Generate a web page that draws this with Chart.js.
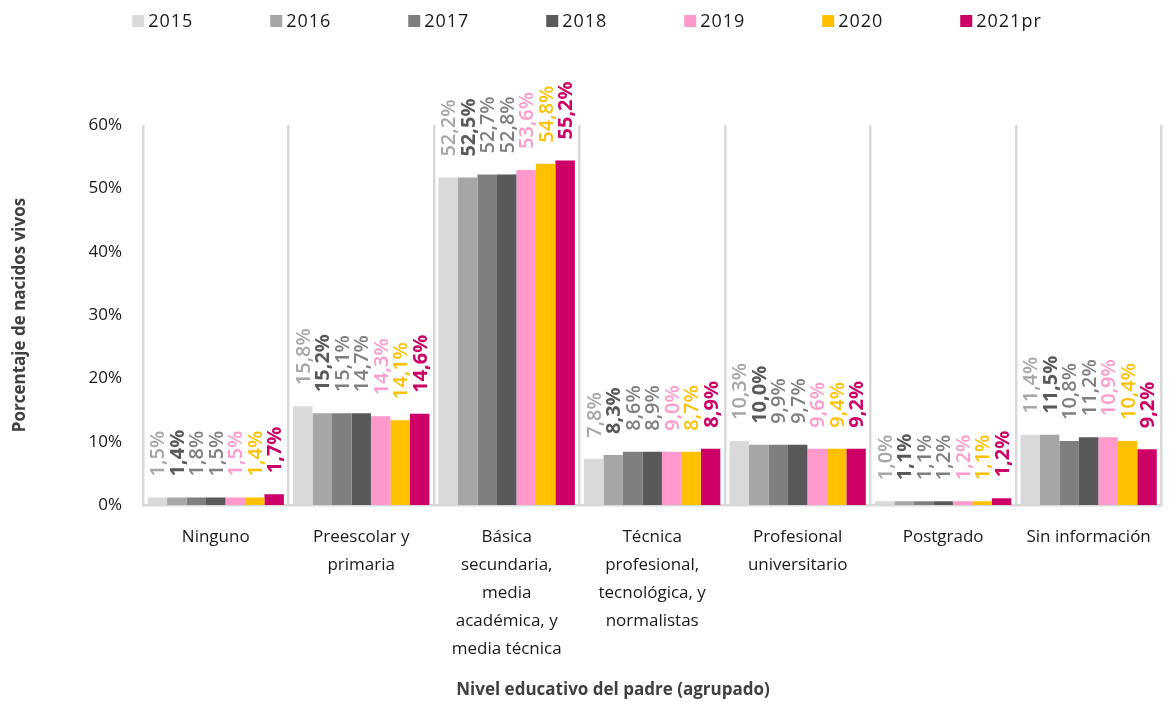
<!DOCTYPE html>
<html><head><meta charset="utf-8">
<script src="https://cdn.jsdelivr.net/npm/chart.js@4.4.1/dist/chart.umd.min.js"></script>
<style>html,body{margin:0;padding:0;background:#fff}#wrap{width:1169px;height:702px;position:relative}</style>
</head><body><div id="wrap"><canvas id="c" width="1169" height="702"></canvas></div>
<script>
const categories = [["Ninguno"],["Preescolar y","primaria"],["Básica","secundaria,","media","académica, y","media técnica"],["Técnica","profesional,","tecnológica, y","normalistas"],["Profesional","universitario"],["Postgrado"],["Sin información"]];
const seriesNames = ["2015","2016","2017","2018","2019","2020","2021pr"];
// bar heights (%) as drawn
const v2015 = [1.2,15.6,51.7,7.3,10.1,0.6,11.1];
const v2016 = [1.2,14.5,51.7,7.9,9.5,0.6,11.1];
const v2017 = [1.2,14.5,52.2,8.4,9.5,0.6,10.1];
const v2018 = [1.2,14.5,52.2,8.4,9.5,0.6,10.7];
const v2019 = [1.2,14.0,52.9,8.4,8.9,0.6,10.7];
const v2020 = [1.2,13.4,53.9,8.4,8.9,0.6,10.1];
const v2021 = [1.7,14.4,54.4,8.9,8.9,1.05,8.8];
// printed data labels (%)
const l2015 = [1.5,15.8,52.2,7.8,10.3,1.0,11.4];
const l2016 = [1.4,15.2,52.5,8.3,10.0,1.1,11.5];
const l2017 = [1.8,15.1,52.7,8.6,9.9,1.1,10.8];
const l2018 = [1.5,14.7,52.8,8.9,9.7,1.2,11.2];
const l2019 = [1.5,14.3,53.6,9.0,9.6,1.2,10.9];
const l2020 = [1.4,14.1,54.8,8.7,9.4,1.1,10.4];
const l2021 = [1.7,14.6,55.2,8.9,9.2,1.2,9.2];
const yTicks = [0,10,20,30,40,50,60];

const values = [v2015,v2016,v2017,v2018,v2019,v2020,v2021];
const labelVals = [l2015,l2016,l2017,l2018,l2019,l2020,l2021];
const barColors = ['#d9d9d9','#a6a6a6','#7f7f7f','#595959','#ff99cc','#ffc000','#cc0066'];
const labelColors = ['#a6a6a6','#595959','#7f7f7f','#7f7f7f','#ff99cc','#ffc000','#cc0066'];
const labelWeights = ['600','bold','600','600','600','600','bold'];
const FONT = "'Open Sans', 'Noto Sans', sans-serif";

const datasets = seriesNames.map((n,i)=>({
  label:n, data:values[i], backgroundColor:barColors[i], borderWidth:0,
  categoryPercentage:0.937, barPercentage:1.0
}));

const dataLabelPlugin = {
  id:'dataLabels',
  afterDatasetsDraw(chart){
    const ctx = chart.ctx;
    chart.data.datasets.forEach((ds,i)=>{
      const meta = chart.getDatasetMeta(i);
      meta.data.forEach((el,j)=>{
        const txt = labelVals[i][j].toFixed(1).replace('.',',') + '%';
        ctx.save();
        ctx.font = labelWeights[i] + ' 20px ' + FONT;
        ctx.fillStyle = labelColors[i];
        ctx.textAlign = 'left';
        ctx.textBaseline = 'alphabetic';
        ctx.translate(el.x + 7, el.y - 21);
        ctx.rotate(-Math.PI/2);
        ctx.fillText(txt, 0, 0);
        ctx.restore();
      });
    });
  }
};

const legendPlugin = {
  id:'customLegend',
  afterDraw(chart){
    const ctx = chart.ctx;
    ctx.save();
    ctx.font = '18px ' + FONT;
    if ('letterSpacing' in ctx) ctx.letterSpacing = '1px';
    ctx.textBaseline = 'middle';
    ctx.textAlign = 'left';
    const step = 138;
    const box = 12;
    const lastW = box + 5 + ctx.measureText(seriesNames[seriesNames.length-1]).width;
    const total = step*(seriesNames.length-1) + lastW;
    let x0 = chart.width/2 - total/2 + 3;
    const yc = 21;
    seriesNames.forEach((n,i)=>{
      const x = x0 + i*step;
      ctx.fillStyle = barColors[i];
      ctx.fillRect(x, yc - box/2, box, box);
      ctx.fillStyle = '#1a1a1a';
      ctx.fillText(n, x + box + 4, yc + 1);
    });
    ctx.restore();
  }
};

const xTitlePlugin = {
  id:'xTitle',
  afterDraw(chart){
    const ctx = chart.ctx;
    ctx.save();
    ctx.font = 'bold 17px ' + FONT;
    ctx.fillStyle = '#404040';
    ctx.textAlign = 'center';
    ctx.textBaseline = 'middle';
    ctx.fillText('Nivel educativo del padre (agrupado)', 613, 690);
    ctx.restore();
  }
};

new Chart(document.getElementById('c'), {
  type:'bar',
  data:{labels:categories, datasets},
  options:{
    responsive:false, animation:false, devicePixelRatio:1,
    layout:{padding:{top:125,right:3,bottom:0,left:0}},
    plugins:{legend:{display:false}, tooltip:{enabled:false}},
    scales:{
      x:{
        grid:{display:true, offset:true, color:'#d9d9d9', lineWidth:2.5, drawTicks:false},
        border:{display:true, color:'#d9d9d9', width:2.5},
        ticks:{autoSkip:false, maxRotation:0, minRotation:0, padding:18,
          color:'#1a1a1a', font:{family:FONT, size:17, lineHeight:1.65}},
        afterFit(s){ s.height = 197; }
      },
      y:{
        min:0, max:60,
        afterBuildTicks(s){ s.ticks = yTicks.map(v=>({value:v})); },
        grid:{display:false, drawTicks:false},
        border:{display:false},
        ticks:{padding:21, color:'#1a1a1a', font:{family:FONT, size:17},
          callback:v=>v+'%'},
        title:{display:true, text:'Porcentaje de nacidos vivos', color:'#404040',
          font:{family:FONT, size:17, weight:'bold'}, padding:{top:10,bottom:0}},
        afterFit(s){ s.width = 143; }
      }
    }
  },
  plugins:[dataLabelPlugin, legendPlugin, xTitlePlugin]
});
</script></body></html>
